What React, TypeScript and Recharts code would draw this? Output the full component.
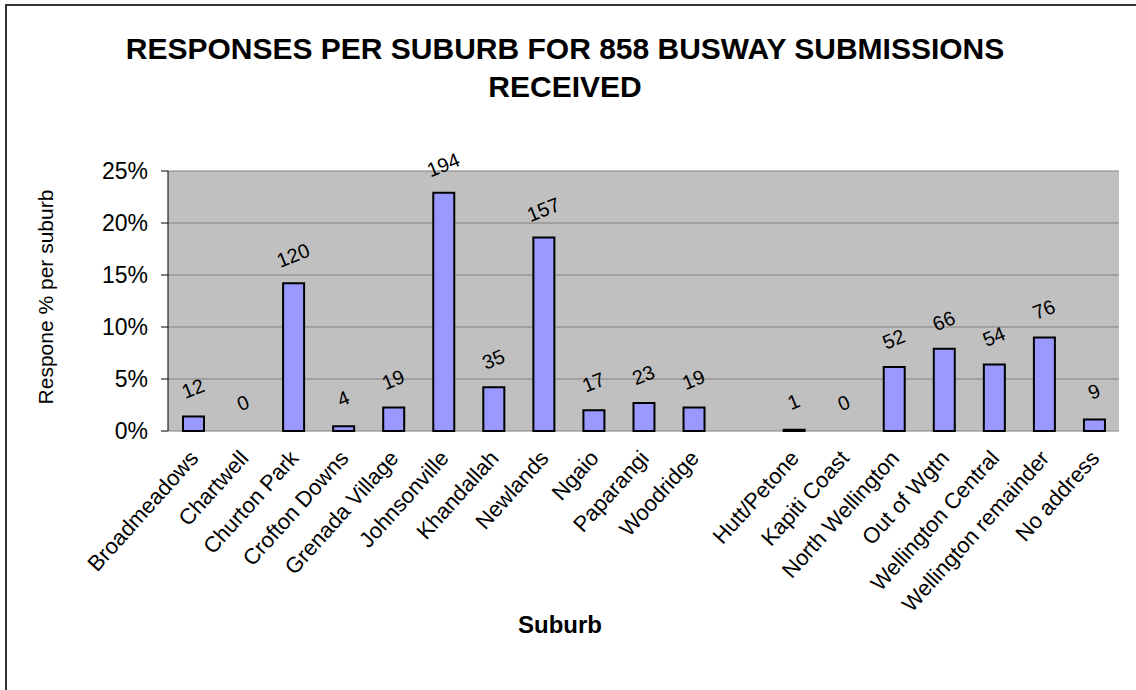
import { Bar, CartesianGrid, ComposedChart, Scatter, XAxis, YAxis } from "recharts";

const suburbs = [
  "Broadmeadows",
  "Chartwell",
  "Churton Park",
  "Crofton Downs",
  "Grenada Village",
  "Johnsonville",
  "Khandallah",
  "Newlands",
  "Ngaio",
  "Paparangi",
  "Woodridge",
  "",
  "Hutt/Petone",
  "Kapiti Coast",
  "North Wellington",
  "Out of Wgtn",
  "Wellington Central",
  "Wellington remainder",
  "No address",
];
// number of submissions (bar labels)
const counts = [12, 0, 120, 4, 19, 194, 35, 157, 17, 23, 19, null, 1, 0, 52, 66, 54, 76, 9];
// bar heights, in %
const percents = [1.4, 0, 14.2, 0.45, 2.25, 22.9, 4.2, 18.6, 2.0, 2.7, 2.25, null, 0.12, 0, 6.15, 7.9, 6.4, 9.0, 1.1];
const yTicks = [0, 5, 10, 15, 20, 25];
const slotTicks = Array.from({ length: suburbs.length + 1 }, (_, i) => i);

const FONT = '"Liberation Sans", Arial, sans-serif';

const data = suburbs.map((name, i) => ({ name, pct: percents[i], count: counts[i] }));

function CatTick({ x, y, payload }: any) {
  const ax = x + 1;
  const ay = y + 23;
  return (
    <text
      x={ax}
      y={ay}
      transform={`rotate(-48 ${ax} ${ay})`}
      textAnchor="end"
      dominantBaseline="central"
      fontSize={22}
      fontFamily={FONT}
      fill="#000"
    >
      {payload.value}
    </text>
  );
}

// count label drawn above each bar top
function CountLabel({ cx, cy, payload }: any) {
  if (!payload || payload.count === null || payload.count === undefined) return null;
  const lx = cx;
  const ly = cy - 28;
  return (
    <text
      x={lx}
      y={ly}
      transform={`rotate(-22 ${lx} ${ly})`}
      textAnchor="middle"
      dominantBaseline="central"
      fontSize={20}
      fontFamily={FONT}
      fill="#000"
    >
      {payload.count}
    </text>
  );
}

export default function App() {
  return (
    <div style={{ position: "absolute", left: 0, top: 0, width: 1136, height: 690, background: "#fff", fontFamily: FONT }}>
      <div
        style={{
          position: "absolute",
          left: 5,
          top: 4,
          width: 1140,
          height: 700,
          borderTop: "2px solid #333",
          borderLeft: "2px solid #333",
        }}
      />
      <div
        style={{
          position: "absolute",
          left: 0,
          top: 30,
          width: 1130,
          textAlign: "center",
          fontSize: 30,
          fontWeight: "bold",
          lineHeight: "38px",
          color: "#000",
        }}
      >
        RESPONSES PER SUBURB FOR 858 BUSWAY SUBMISSIONS
        <br />
        RECEIVED
      </div>
      <div
        style={{
          position: "absolute",
          left: 560 - 70,
          top: 625 - 15,
          width: 140,
          height: 30,
          lineHeight: "30px",
          textAlign: "center",
          fontSize: 24,
          fontWeight: "bold",
        }}
      >
        Suburb
      </div>
      <div
        style={{
          position: "absolute",
          left: 46 - 150,
          top: 297 - 12,
          width: 300,
          height: 24,
          lineHeight: "24px",
          textAlign: "center",
          fontSize: 21,
          transform: "rotate(-90deg)",
        }}
      >
        Respone % per suburb
      </div>
      <ComposedChart
        width={1136}
        height={690}
        data={data}
        margin={{ top: 171, right: 17, bottom: 109, left: 108 }}
        barSize={21}
        style={{ position: "absolute", left: 0, top: 0 }}
      >
        <CartesianGrid fill="#C0C0C0" stroke="#808080" vertical={false} />
        <XAxis
          xAxisId="slot"
          type="number"
          dataKey={() => 0}
          domain={[0, suburbs.length]}
          ticks={slotTicks}
          tick={false}
          tickSize={6}
          height={0}
          axisLine={{ stroke: "#000" }}
          tickLine={{ stroke: "#000" }}
          allowDataOverflow
        />
        <XAxis
          xAxisId="cat"
          dataKey="name"
          interval={0}
          height={150}
          tickSize={0}
          tickMargin={0}
          axisLine={false}
          tickLine={false}
          tick={<CatTick />}
        />
        <YAxis
          domain={[0, 25]}
          ticks={yTicks}
          width={60}
          tickSize={7}
          tickMargin={13}
          tickFormatter={(v) => `${v}%`}
          tick={{ fontSize: 23, fontFamily: FONT, fill: "#000" }}
          axisLine={{ stroke: "#000" }}
          tickLine={{ stroke: "#000" }}
        />
        <YAxis yAxisId="edge" orientation="right" width={0} tick={false} tickLine={false} axisLine={{ stroke: "#808080" }} />
        <Bar xAxisId="cat" dataKey="pct" fill="#9999FF" stroke="#000" strokeWidth={2} isAnimationActive={false} />
        <Scatter xAxisId="cat" dataKey="pct" shape={<CountLabel />} isAnimationActive={false} />
      </ComposedChart>
    </div>
  );
}
